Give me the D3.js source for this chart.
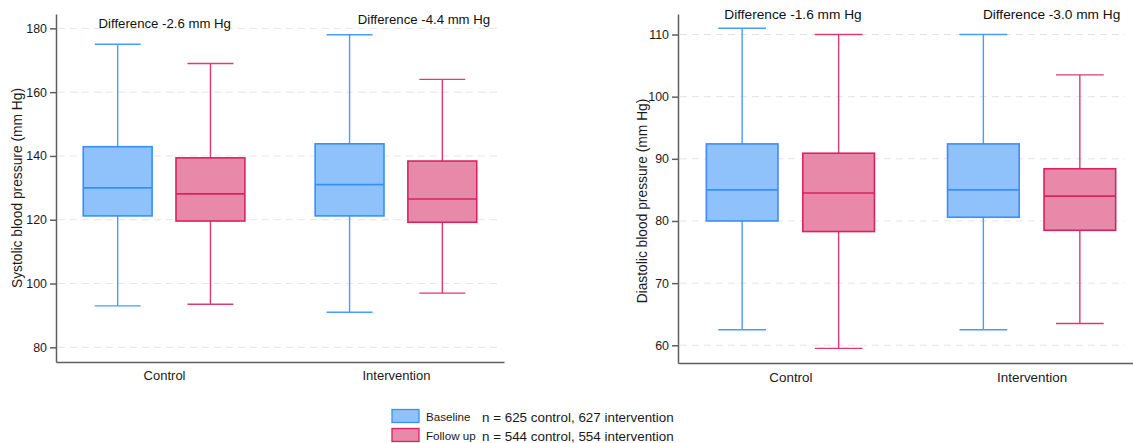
<!DOCTYPE html>
<html>
<head>
<meta charset="utf-8">
<script src="https://cdn.jsdelivr.net/npm/d3@7"></script>
<style>
  body { margin: 0; background: #fff; }
  svg { display: block; font-family: "Liberation Sans", Arial, sans-serif; }
</style>
</head>
<body>
<svg id="chart"></svg>
<script>
const width = 1133, height = 443;
const fontFamily = '"Liberation Sans", Arial, sans-serif';

const groups = ["Control", "Intervention"];
const series = ["Baseline", "Follow up"];
const legendNotes = ["n = 625 control, 627 intervention", "n = 544 control, 554 intervention"];

// order: Control Baseline, Control Follow up, Intervention Baseline, Intervention Follow up
const sbpMin = [93, 93.5, 91, 97];
const sbpQ1 = [121.2, 119.6, 121.2, 119.2];
const sbpMedian = [130, 128.1, 131, 126.5];
const sbpQ3 = [142.9, 139.4, 143.8, 138.4];
const sbpMax = [175, 169, 178, 164];
const sbpTicks = [80, 100, 120, 140, 160, 180];
const sbpDiffs = ["Difference -2.6 mm Hg", "Difference -4.4 mm Hg"];

const dbpMin = [62.5, 59.5, 62.5, 63.5];
const dbpQ1 = [80, 78.3, 80.6, 78.5];
const dbpMedian = [85, 84.5, 85, 84];
const dbpQ3 = [92.4, 90.9, 92.4, 88.4];
const dbpMax = [111, 110, 110, 103.5];
const dbpTicks = [60, 70, 80, 90, 100, 110];
const dbpDiffs = ["Difference -1.6 mm Hg", "Difference -3.0 mm Hg"];

const fills = { "Baseline": "#8fc1fa", "Follow up": "#e889a9" };
const strokes = { "Baseline": "#3a8ff3", "Follow up": "#d82360" };
const whiskers = { "Baseline": "#4a9cf6", "Follow up": "#dc3a6e" };

function makeBoxes(mins, q1s, meds, q3s, maxs) {
    const out = [];
    groups.forEach((g, gi) => {
        series.forEach((s, si) => {
            const i = gi * series.length + si;
            out.push({ group: g, series: s, min: mins[i], q1: q1s[i], median: meds[i], q3: q3s[i], max: maxs[i] });
        });
    });
    return out;
}

const panels = [
    {
        boxes: makeBoxes(sbpMin, sbpQ1, sbpMedian, sbpQ3, sbpMax),
        ticks: sbpTicks, diffs: sbpDiffs,
        title: "Systolic blood pressure (mm Hg)",
        yDomain: [75.4, 184.5], yRange: [362, 14],
        xRange: [56, 504], gridEnd: 497,
        titleX: 17, titleY: 188,
        diffDx: [0.7, 28], diffY: [28, 24], diffSize: 13.2,
        catSize: 13, catY: 380
    },
    {
        boxes: makeBoxes(dbpMin, dbpQ1, dbpMedian, dbpQ3, dbpMax),
        ticks: dbpTicks, diffs: dbpDiffs,
        title: "Diastolic blood pressure (mm Hg)",
        yDomain: [57.15, 113.3], yRange: [363, 14],
        xRange: [678, 1144], gridEnd: 1125,
        titleX: 642.5, titleY: 201,
        diffDx: [2.6, 20], diffY: [18.5, 18.5], diffSize: 13.7,
        catSize: 13.4, catY: 381.5
    }
];

const svg = d3.select("#chart")
    .attr("width", width)
    .attr("height", height)
    .attr("viewBox", `0 0 ${width} ${height}`);

panels.forEach(p => {
    const g = svg.append("g");

    const y = d3.scaleLinear().domain(p.yDomain).range(p.yRange);
    const x = d3.scalePoint().domain(groups).range(p.xRange).padding(0.466);
    const step = x.step();
    const x1 = d3.scaleBand().domain(series)
        .range([-0.3485 * step, 0.3485 * step])
        .paddingInner(0.2575).paddingOuter(0);
    const bw = x1.bandwidth();
    const x0 = p.xRange[0];

    // grid
    g.append("g").selectAll("line")
        .data(p.ticks)
        .join("line")
        .attr("x1", x0 + 2)
        .attr("x2", p.gridEnd)
        .attr("y1", d => y(d))
        .attr("y2", d => y(d))
        .attr("stroke", "#e4e4e4")
        .attr("stroke-dasharray", "7,5");

    // boxes
    const box = g.append("g").selectAll("g")
        .data(p.boxes)
        .join("g")
        .attr("transform", d => `translate(${x(d.group) + x1(d.series)},0)`);

    box.append("line")
        .attr("x1", bw / 2).attr("x2", bw / 2)
        .attr("y1", d => y(d.max)).attr("y2", d => y(d.min))
        .attr("stroke", d => whiskers[d.series])
        .attr("stroke-width", 1.4);

    box.append("rect")
        .attr("x", 0)
        .attr("width", bw)
        .attr("y", d => y(d.q3))
        .attr("height", d => y(d.q1) - y(d.q3))
        .attr("fill", d => fills[d.series])
        .attr("stroke", d => strokes[d.series])
        .attr("stroke-width", 1.6);

    box.append("line")
        .attr("x1", 0).attr("x2", bw)
        .attr("y1", d => y(d.median)).attr("y2", d => y(d.median))
        .attr("stroke", d => strokes[d.series])
        .attr("stroke-width", 1.6);

    ["min", "max"].forEach(k => {
        box.append("line")
            .attr("x1", bw / 6).attr("x2", bw * 5 / 6)
            .attr("y1", d => y(d[k])).attr("y2", d => y(d[k]))
            .attr("stroke", d => whiskers[d.series])
            .attr("stroke-width", 1.4);
    });

    // axes
    const yAxis = g.append("g")
        .attr("transform", `translate(${x0},0)`)
        .call(d3.axisLeft(y).tickValues(p.ticks).tickSize(6).tickSizeOuter(0).tickPadding(3))
        .attr("font-family", fontFamily);
    yAxis.selectAll("text").style("font-size", "12.4px").attr("fill", "#1a1a1a");

    const xAxis = g.append("g")
        .attr("transform", `translate(0,${p.yRange[0]})`)
        .call(d3.axisBottom(x).tickSize(0).tickSizeOuter(0).tickPadding(0))
        .attr("font-family", fontFamily);
    xAxis.selectAll("text")
        .attr("y", p.catY - p.yRange[0])
        .attr("dy", null)
        .style("font-size", p.catSize + "px")
        .attr("fill", "#1a1a1a");

    [yAxis, xAxis].forEach(a => {
        a.selectAll(".domain, .tick line").attr("stroke", "#5f5f5f").attr("stroke-width", 1.5);
    });

    g.append("text")
        .attr("transform", `translate(${p.titleX},${p.titleY}) rotate(-90)`)
        .attr("text-anchor", "middle")
        .attr("dy", "0.35em")
        .style("font-size", "13.8px")
        .attr("fill", "#1a1a1a")
        .text(p.title);

    g.append("g").selectAll("text")
        .data(p.diffs)
        .join("text")
        .attr("x", (d, i) => x(groups[i]) + p.diffDx[i])
        .attr("y", (d, i) => p.diffY[i])
        .attr("text-anchor", "middle")
        .style("font-size", p.diffSize + "px")
        .attr("fill", "#111")
        .text(d => d);
});

// legend
const legend = svg.append("g").attr("transform", "translate(392,409.5)");
const rows = legend.selectAll("g")
    .data(series)
    .join("g")
    .attr("transform", (d, i) => `translate(0,${i * 19})`);

rows.append("rect")
    .attr("width", 27).attr("height", 13)
    .attr("fill", d => fills[d])
    .attr("stroke", d => strokes[d])
    .attr("stroke-width", 1.3);

rows.append("text")
    .attr("x", 34).attr("y", 11.5)
    .style("font-size", "11.6px")
    .attr("fill", "#1a1a1a")
    .text(d => d);

rows.append("text")
    .attr("x", 90).attr("y", 12)
    .style("font-size", "13.4px")
    .attr("fill", "#1a1a1a")
    .text((d, i) => legendNotes[i]);
</script>
</body>
</html>
